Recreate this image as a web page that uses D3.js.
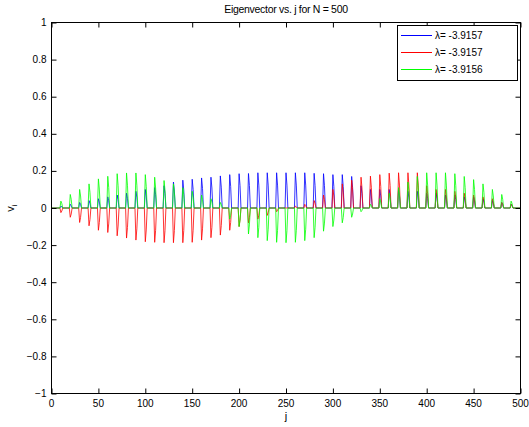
<!DOCTYPE html>
<html><head><meta charset="utf-8">
<script src="https://cdn.jsdelivr.net/npm/d3@7"></script>
<style>
body{margin:0;background:#fff;}
svg{display:block;}
text{font-family:"Liberation Sans",Arial,sans-serif;}
</style></head>
<body>
<svg id="chart" width="529" height="427"></svg>
<script>
// Spike positions (index j) and peak value of each eigenvector at those spikes
const spikeJ = [10,20,30,40,50,60,70,80,90,100,110,120,130,140,150,160,170,180,190,200,
  210,220,230,240,250,260,270,280,290,300,310,320,330,340,350,360,370,380,390,400,
  410,420,430,440,450,460,470,480,490];
const bluePeaks = [0.01,0.02,0.03,0.04,0.05,0.06,0.07,0.08,0.09,0.10,0.11,0.12,0.14,0.15,0.155,0.162,0.166,0.173,0.18,0.185,
  0.186,0.19,0.19,0.19,0.19,0.19,0.19,0.187,0.185,0.18,0.18,0.17,0.12,0.10,0.10,0.10,0.10,0.09,0.09,0.08,
  0.08,0.07,0.07,0.06,0.06,0.05,0.04,0.03,0.02];
const redPeaks = [-0.025,-0.05,-0.078,-0.096,-0.12,-0.132,-0.15,-0.162,-0.173,-0.182,-0.185,-0.187,-0.187,-0.187,-0.185,-0.173,-0.16,-0.146,-0.12,-0.10,
  -0.08,-0.06,-0.04,-0.02,0.0,0.01,0.02,0.04,0.07,0.10,0.13,0.15,0.166,0.172,0.18,0.188,0.19,0.19,0.19,0.12,
  0.10,0.10,0.09,0.08,0.07,0.06,0.05,0.03,0.02];
const greenPeaks = [0.037,0.073,0.10,0.13,0.157,0.171,0.185,0.189,0.189,0.18,0.166,0.148,0.13,0.11,0.09,0.07,0.05,0.03,-0.06,-0.10,
  -0.14,-0.16,-0.176,-0.185,-0.187,-0.185,-0.176,-0.16,-0.125,-0.10,-0.08,-0.05,-0.02,0.02,0.05,0.08,0.11,0.14,0.17,0.19,
  0.19,0.19,0.185,0.17,0.153,0.13,0.10,0.073,0.037];
const shoulderRatio = 0.65; // neighbouring sample relative to the peak
const seriesNames = ["λ= -3.9157","λ= -3.9157","λ= -3.9156"];
const seriesColors = ["#0000ff","#ff0000","#00ff00"];
const xTicks = [0,50,100,150,200,250,300,350,400,450,500];
const yTicks = [-1,-0.8,-0.6,-0.4,-0.2,0,0.2,0.4,0.6,0.8,1];
const N = 500;

function buildSeries(peaks){
  const v = new Array(N+1).fill(0);
  spikeJ.forEach((p,k)=>{ v[p]=peaks[k]; v[p+1]=peaks[k]*shoulderRatio; });
  return v.map((y,j)=>({j,y}));
}
const series = [bluePeaks, redPeaks, greenPeaks].map(buildSeries);

const svg = d3.select("#chart");
const L=51.5, R=520.5, T=22.5, B=393.5;
const x = d3.scaleLinear().domain([0,500]).range([L,R]);
const y = d3.scaleLinear().domain([-1,1]).range([B,T]);

const line = d3.line().x(d=>x(d.j)).y(d=>y(d.y));
const plot = svg.append("g");
series.forEach((s,i)=>{
  plot.append("path").datum(s).attr("d",line)
    .attr("fill","none").attr("stroke",seriesColors[i]).attr("stroke-width",0.8);
});

// axes with inward ticks, box on
const fs = 10;
const gB = svg.append("g").attr("transform",`translate(0,${B})`)
  .call(d3.axisTop(x).tickValues(xTicks).tickSize(5).tickFormat(""));
const gT = svg.append("g").attr("transform",`translate(0,${T})`)
  .call(d3.axisBottom(x).tickValues(xTicks).tickSize(5).tickFormat(""));
const gL = svg.append("g").attr("transform",`translate(${L},0)`)
  .call(d3.axisRight(y).tickValues(yTicks).tickSize(5).tickFormat(""));
const gR = svg.append("g").attr("transform",`translate(${R},0)`)
  .call(d3.axisLeft(y).tickValues(yTicks).tickSize(5).tickFormat(""));
[gB,gT,gL,gR].forEach(g=>{ g.select(".domain").remove(); g.selectAll("line").attr("stroke","#000"); });
svg.append("rect").attr("x",L).attr("y",T).attr("width",R-L).attr("height",B-T)
  .attr("fill","none").attr("stroke","#000").attr("stroke-width",1);

// tick labels
svg.append("g").selectAll("text").data(xTicks).join("text")
  .attr("x",d=>x(d)).attr("y",B+13).attr("text-anchor","middle")
  .attr("font-size",fs).text(d=>d);
svg.append("g").selectAll("text").data(yTicks).join("text")
  .attr("x",L-5).attr("y",d=>y(d)+3.5).attr("text-anchor","end")
  .attr("font-size",fs).text(d=>d3.format("")(d));

// title & labels
svg.append("text").attr("x",(L+R)/2).attr("y",13).attr("text-anchor","middle")
  .attr("font-size",10.5).attr("letter-spacing","-0.3").text("Eigenvector vs. j for N = 500");
svg.append("text").attr("x",(L+R)/2).attr("y",420).attr("text-anchor","middle")
  .attr("font-size",11).text("j");
const yl = svg.append("text").attr("transform",`translate(14,${(T+B)/2}) rotate(-90)`)
  .attr("text-anchor","middle").attr("font-size",11);
yl.append("tspan").text("v");
yl.append("tspan").attr("font-size",8).attr("dy",3).text("i");

// legend
const lg = svg.append("g");
lg.append("rect").attr("x",397.5).attr("y",25.5).attr("width",120).attr("height",55)
  .attr("fill","#fff").attr("stroke","#000").attr("stroke-width",1);
seriesNames.forEach((n,i)=>{
  const yy = 35.5 + i*17;
  lg.append("line").attr("x1",401).attr("x2",432).attr("y1",yy).attr("y2",yy)
    .attr("stroke",seriesColors[i]).attr("stroke-width",1);
  lg.append("text").attr("x",435).attr("y",yy+3.5).attr("font-size",fs).text(n);
});
</script>
</body></html>
